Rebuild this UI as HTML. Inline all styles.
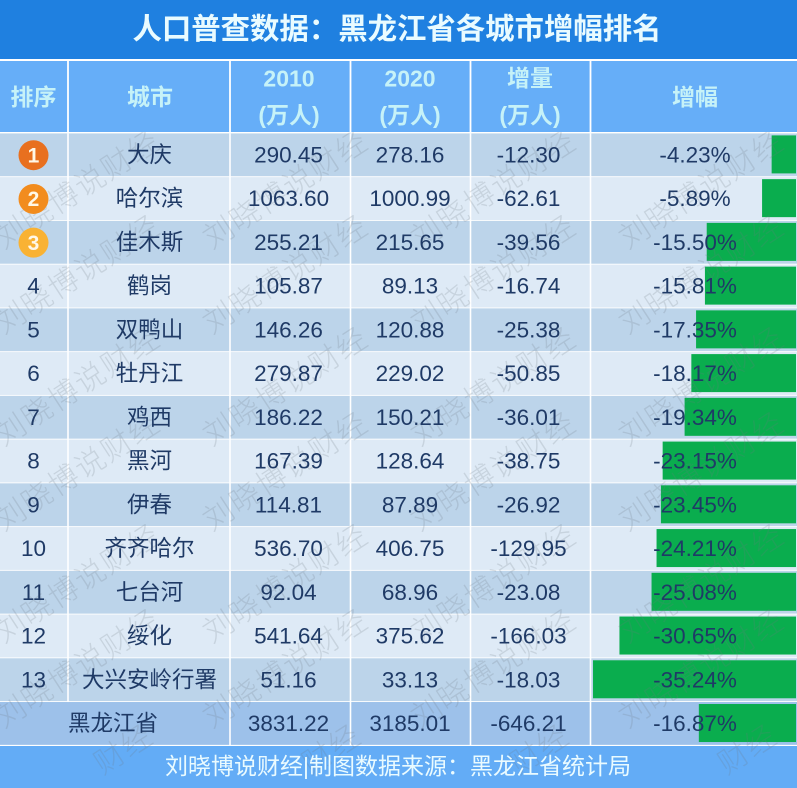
<!DOCTYPE html>
<html lang="zh">
<head>
<meta charset="utf-8">
<title>人口普查数据:黑龙江省各城市增幅排名</title>
<style>
html,body{margin:0;padding:0;background:#fff;width:797px;height:788px;overflow:hidden}
svg{display:block}
text{font-family:"Liberation Sans","Noto Sans CJK SC",sans-serif}
.cell{font-size:22.5px;fill:#1f3a66;text-anchor:middle}
.head{font-size:23px;font-weight:700;fill:#c6f2f8;text-anchor:middle}
.wm{font-size:30px;font-weight:300;letter-spacing:1.6px;fill:#6e7884;fill-opacity:.2;text-anchor:middle;dominant-baseline:central}
</style>
</head>
<body>
<svg id="chart" xmlns="http://www.w3.org/2000/svg" width="797" height="788" viewBox="0 0 797 788">
  <g id="rows"></g>
  <g id="bars"></g>
  <rect x="0" y="746" width="797" height="42" fill="#63acf6"/>
  <g id="watermarks"></g>
  <g id="cells"></g>

  <rect x="0" y="0" width="797" height="59" fill="#1f80e0"/>
  <text x="397" y="39" text-anchor="middle" font-size="29.4" font-weight="700" fill="#e9fbff">人口普查数据：黑龙江省各城市增幅排名</text>
  <rect x="0" y="61" width="797" height="71" fill="#66aef8"/>
  <text class="head" x="33.5" y="105">排序</text>
  <text class="head" x="150" y="105">城市</text>
  <text class="head" x="289" y="86.5" font-size="24">2010</text>
  <text class="head" x="289" y="123">(万人)</text>
  <text class="head" x="410" y="86.5" font-size="24">2020</text>
  <text class="head" x="410" y="123">(万人)</text>
  <text class="head" x="530" y="86">增量</text>
  <text class="head" x="530" y="123">(万人)</text>
  <text class="head" x="695" y="105">增幅</text>
  <g stroke="#ffffff" stroke-width="1.8">
    <line x1="68" y1="60" x2="68" y2="133"/>
    <line x1="230" y1="60" x2="230" y2="133"/>
    <line x1="350.5" y1="60" x2="350.5" y2="133"/>
    <line x1="470.5" y1="60" x2="470.5" y2="133"/>
    <line x1="590.5" y1="60" x2="590.5" y2="133"/>
  </g>
  <text x="398" y="774" text-anchor="middle" font-size="23" fill="#eafbff">刘晓博说财经|制图数据来源：黑龙江省统计局</text>
</svg>
<script>
const cities = ['大庆','哈尔滨','佳木斯','鹤岗','双鸭山','牡丹江','鸡西','黑河','伊春','齐齐哈尔','七台河','绥化','大兴安岭行署','黑龙江省'];
const pop2010 = [290.45,1063.60,255.21,105.87,146.26,279.87,186.22,167.39,114.81,536.70,92.04,541.64,51.16,3831.22];
const pop2020 = [278.16,1000.99,215.65,89.13,120.88,229.02,150.21,128.64,87.89,406.75,68.96,375.62,33.13,3185.01];
const change = [-12.30,-62.61,-39.56,-16.74,-25.38,-50.85,-36.01,-38.75,-26.92,-129.95,-23.08,-166.03,-18.03,-646.21];
const growthPct = [-4.23,-5.89,-15.50,-15.81,-17.35,-18.17,-19.34,-23.15,-23.45,-24.21,-25.08,-30.65,-35.24,-16.87];

const NS = 'http://www.w3.org/2000/svg';
const rowTop0 = 133.4, rowStep = 43.74, barRight = 796, barPerPct = 5.76;
const medalColors = ['#e8701f', '#f28c1e', '#f9b233'];
const rowsG = document.getElementById('rows');
const barsG = document.getElementById('bars');
const wmG = document.getElementById('watermarks');
const cellsG = document.getElementById('cells');

function rowTop(i) { return rowTop0 + i * rowStep; }
function barX(v) { return barRight - Math.abs(v) * barPerPct; }
function mk(tag, parent) {
  const el = document.createElementNS(NS, tag);
  parent.appendChild(el);
  return el;
}
function put(x, y, content) {
  const t = mk('text', cellsG);
  t.setAttribute('class', 'cell');
  t.setAttribute('x', x);
  t.setAttribute('y', y);
  t.textContent = content;
  return t;
}

const totalIdx = cities.length - 1;
cities.forEach((city, i) => {
  const top = rowTop(i);
  const isTotal = i === totalIdx;
  const bg = mk('rect', rowsG);
  
  
  bg.setAttribute('x', 0);
  bg.setAttribute('y', top);
  bg.setAttribute('width', 797);
  bg.setAttribute('height', rowStep);
  bg.setAttribute('fill', isTotal ? '#9dc1ea' : (i % 2 === 0 ? '#bcd4ea' : '#deeaf6'));

  const sep = mk('rect', rowsG);
  
  
  sep.setAttribute('x', 0);
  sep.setAttribute('y', top + rowStep - 0.9);
  sep.setAttribute('width', 797);
  sep.setAttribute('height', 1.8);
  sep.setAttribute('fill', '#ffffff');

  const bar = mk('rect', barsG);
  
  
  bar.setAttribute('x', barX(growthPct[i]));
  bar.setAttribute('y', top + 2);
  bar.setAttribute('width', barRight - barX(growthPct[i]));
  bar.setAttribute('height', 38);
  bar.setAttribute('fill', '#0aad4e');

  const base = top + 29;
  if (isTotal) {
    const totalLabel = put(113, base, city);
    
    
  } else if (i < 3) {
    const medal = mk('circle', cellsG);
    
    
    medal.setAttribute('cx', 33.5);
    medal.setAttribute('cy', top + 21.8);
    medal.setAttribute('r', 15);
    medal.setAttribute('fill', medalColors[i]);
    const medalNum = mk('text', cellsG);
    
    
    medalNum.setAttribute('x', 33.5);
    medalNum.setAttribute('y', top + 29);
    medalNum.setAttribute('text-anchor', 'middle');
    medalNum.setAttribute('font-size', 21);
    medalNum.setAttribute('font-weight', 700);
    medalNum.setAttribute('fill', '#fff8e8');
    medalNum.textContent = i + 1;
  } else {
    const rankText = put(33.5, base, i + 1);
    
    
  }
  if (!isTotal) {
    const cityText = put(149.5, base, city);
    
    
  }
  const c2010 = put(288.5, base, pop2010[i].toFixed(2));
  
  
  const c2020 = put(410, base, pop2020[i].toFixed(2));
  
  
  const cChange = put(528.5, base, change[i].toFixed(2));
  
  
  const cPct = put(695, base, growthPct[i].toFixed(2) + '%');
  
  
});

[68, 230, 350.5, 470.5, 590.5].forEach((x, k) => {
  const v = mk('rect', rowsG);
  
  
  v.setAttribute('x', x - 0.8);
  v.setAttribute('y', rowTop0);
  v.setAttribute('width', 1.6);
  v.setAttribute('height', k === 0 ? rowStep * 13 : rowStep * 14);
  v.setAttribute('fill', '#ffffff');
});

for (let c = 0; c < 4; c++) {
  for (let k = 0; k < 3; k++) {
    for (let p = 0; p < 2; p++) {
      const sx = 78 + 208 * c;
      const sy = 190 + 197 * k + 85 * p;
      const w = mk('text', wmG);
      
      
      w.setAttribute('class', 'wm');
      w.setAttribute('x', sx);
      w.setAttribute('y', sy);
      w.setAttribute('transform', 'rotate(-33 ' + sx + ' ' + sy + ')');
      w.textContent = '刘晓博说财经';
    }
  }
  const fx = 124 + 208 * c;
  const fy = 750;
  const tail = mk('text', wmG);
  
  
  tail.setAttribute('class', 'wm');
  tail.setAttribute('x', fx);
  tail.setAttribute('y', fy);
  tail.setAttribute('transform', 'rotate(-33 ' + fx + ' ' + fy + ')');
  tail.textContent = '财经';
}
</script>
</body>
</html>
